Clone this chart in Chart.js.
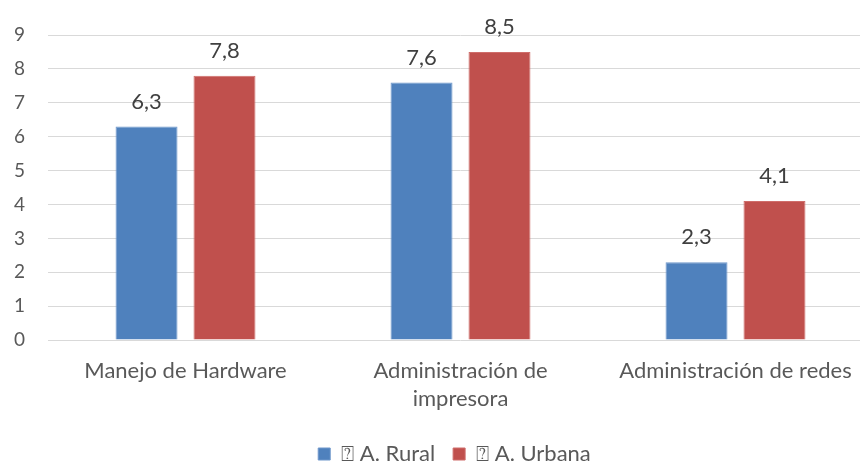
<!DOCTYPE html>
<html><head><meta charset="utf-8">
<script src="https://cdn.jsdelivr.net/npm/chart.js@4/dist/chart.umd.min.js"></script>
<style>html,body{margin:0;padding:0;background:#fff;overflow:hidden;width:860px;height:462px}#w{width:873px;height:462px}</style>
</head><body><div id="w"><canvas id="c"></canvas></div>
<script>
const categories = [["Manejo de Hardware"], ["Administración de", "impresora"], ["Administración de redes"]];
const seriesNames = ["⍰ A. Rural", "⍰ A. Urbana"];
const rural = [6.3, 7.6, 2.3];
const urbana = [7.8, 8.5, 4.1];
const yTicks = [0,1,2,3,4,5,6,7,8,9];

const FONT = "Lato, 'Open Sans', sans-serif";
const labelPlugin = {
  id: 'vals',
  afterLayout(chart) {
    const lg = chart.legend;
    if (lg) { lg.left += 11; lg.right += 11; lg.top += 3; lg.bottom += 3; }
  },
  afterDatasetsDraw(chart) {
    const ctx = chart.ctx;
    ctx.save();
    ctx.font = "22px " + FONT;
    ctx.fillStyle = "#404040";
    ctx.textAlign = "center";
    ctx.textBaseline = "middle";
    chart.data.datasets.forEach((ds, i) => {
      chart.getDatasetMeta(i).data.forEach((bar, j) => {
        ctx.fillText(String(ds.data[j]).replace('.', ','), bar.x, bar.y - 25);
      });
    });
    ctx.restore();
  }
};

new Chart(document.getElementById('c'), {
  type: 'bar',
  data: {
    labels: categories,
    datasets: [
      {label: seriesNames[0], data: rural, backgroundColor: '#4F81BD', borderColor: '#6f97cb', borderWidth: 1},
      {label: seriesNames[1], data: urbana, backgroundColor: '#C0504D', borderColor: '#cf6d6a', borderWidth: 1}
    ]
  },
  options: {
    responsive: true, maintainAspectRatio: false, animation: false,
    layout: {padding: {top: 35, right: 0, left: 14, bottom: -10}},
    datasets: {bar: {categoryPercentage: 0.567, barPercentage: 0.795}},
    plugins: {
      legend: {position: 'bottom', labels: {font: {family: FONT, size: 22}, color: '#595959', boxWidth: 12, boxHeight: 12, padding: 18}},
      tooltip: {enabled: false}
    },
    scales: {
      x: {
        grid: {display: false}, border: {display: false},
        ticks: {font: {family: FONT, size: 22, lineHeight: 1.27}, color: '#595959', padding: 9, maxRotation: 0}
      },
      y: {
        min: 0, max: 9,
        afterBuildTicks: ax => { ax.ticks = yTicks.map(v => ({value: v})); },
        grid: {color: '#d9d9d9', drawTicks: false}, border: {display: false},
        ticks: {font: {family: FONT, size: 19}, color: '#595959', padding: 11.5, crossAlign: 'far'}
      }
    }
  },
  plugins: [labelPlugin]
});
</script></body></html>
